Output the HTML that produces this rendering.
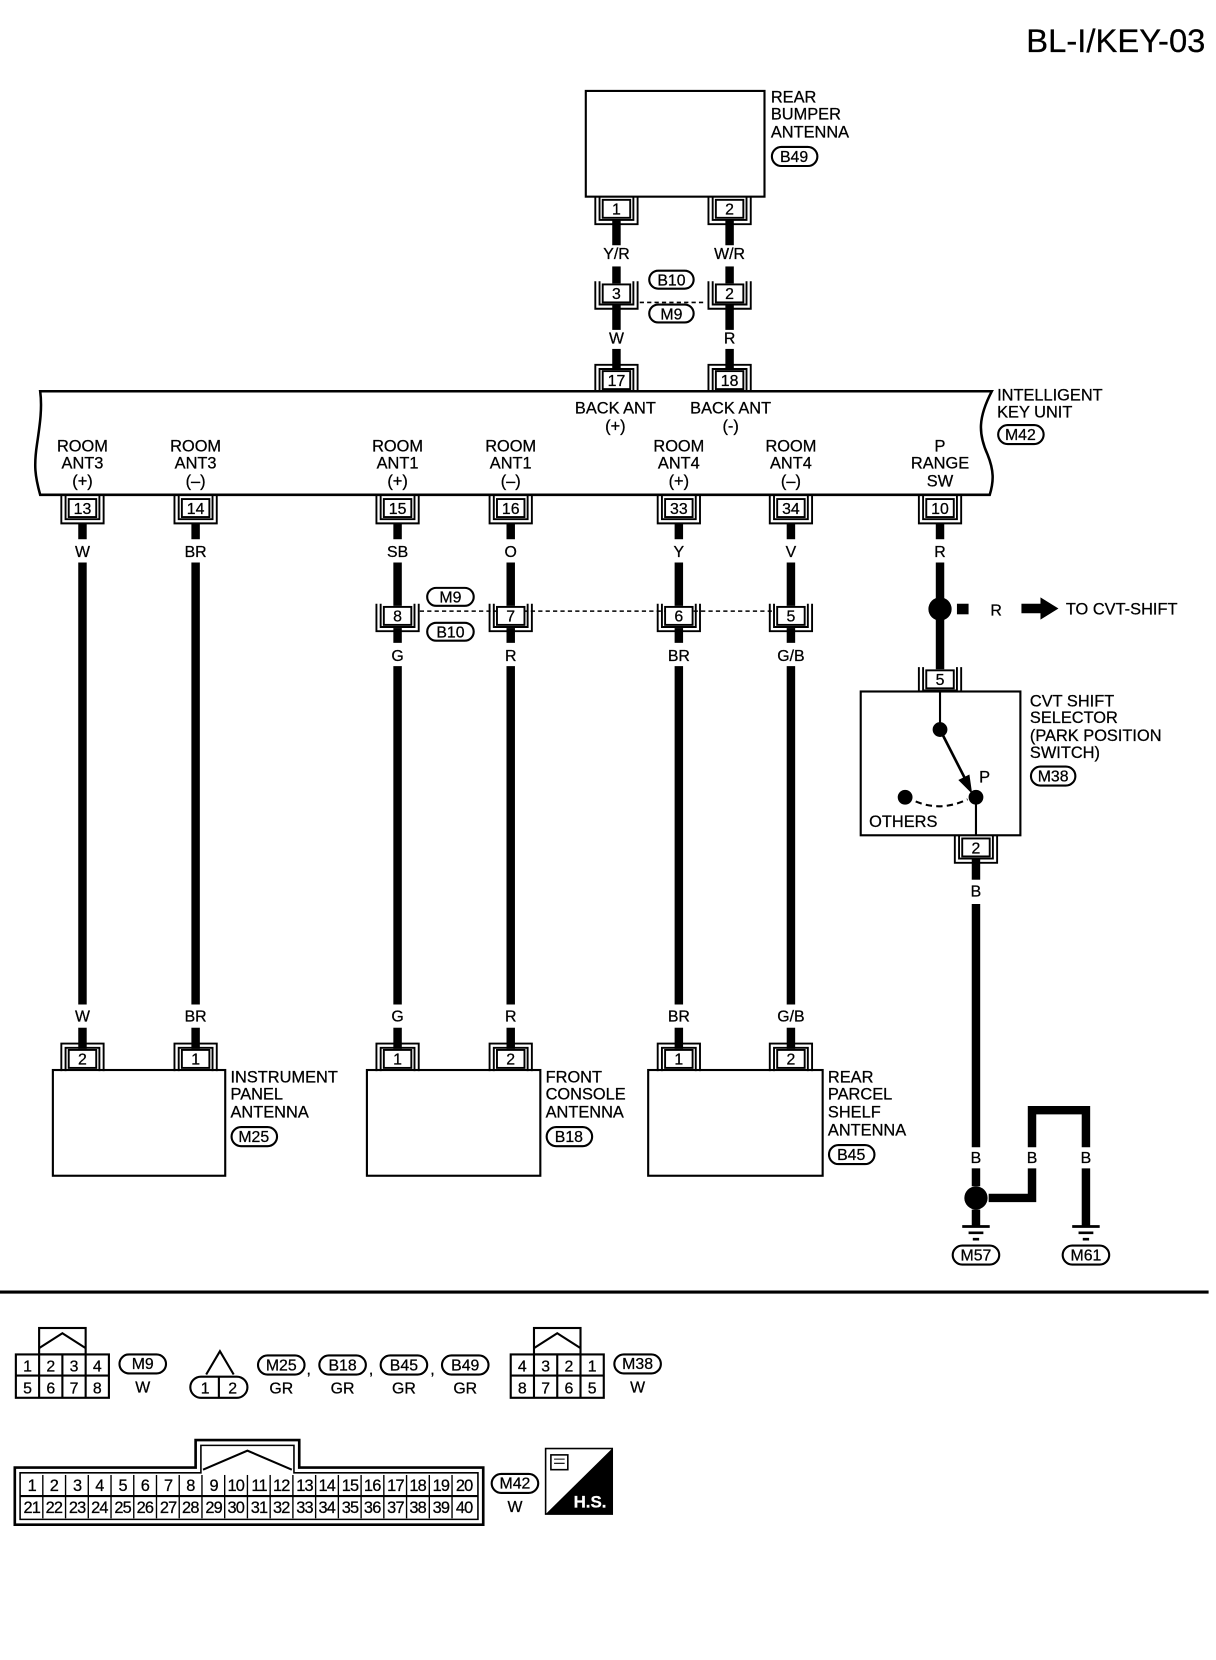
<!DOCTYPE html>
<html><head><meta charset="utf-8"><style>
html,body{margin:0;padding:0;background:#fff}
svg{display:block}
text{font-family:"Liberation Sans",Arial,sans-serif;font-size:15.5px;fill:#000;stroke:#000;stroke-width:0.25px}
.c{text-anchor:middle}
.s{font-size:15px}
rect[rx]{stroke-width:2px}
</style></head><body>
<svg width="1216" height="1660" viewBox="0 0 1150 1570" preserveAspectRatio="none" xmlns="http://www.w3.org/2000/svg">
<defs>
<g id="cu"><rect x="-13" y="0" width="26" height="17" fill="#fff" stroke="#000" stroke-width="1.8"/><path d="M-16,-3V19H16V-3M-20,-3V23H20V-3" fill="none" stroke="#000" stroke-width="1.8"/></g>
<g id="cn"><rect x="-13" y="0" width="26" height="17" fill="#fff" stroke="#000" stroke-width="1.8"/><path d="M-16,20V-2H16V20M-20,20V-6H20V20" fill="none" stroke="#000" stroke-width="1.8"/></g>
<g id="gnd"><path d="M-13,0H13M-7,6H7M-3,12H3" stroke="#000" stroke-width="2.5"/></g>
</defs>
<text x="1140" y="49" text-anchor="end" style="font-size:31px">BL-I/KEY-03</text>

<rect x="554" y="86" width="169" height="100" fill="none" stroke="#000" stroke-width="2"/>
<text x="729" y="97">REAR</text><text x="729" y="113">BUMPER</text><text x="729" y="130">ANTENNA</text>
<rect x="730" y="139" width="43" height="18" rx="9" fill="none" stroke="#000"/><text x="751" y="153" class="c s">B49</text>

<g stroke="#000" stroke-width="8">
<line x1="583" y1="208" x2="583" y2="232"/><line x1="583" y1="252" x2="583" y2="268"/><line x1="583" y1="288" x2="583" y2="312"/><line x1="583" y1="330" x2="583" y2="350"/>
<line x1="690" y1="208" x2="690" y2="232"/><line x1="690" y1="252" x2="690" y2="268"/><line x1="690" y1="288" x2="690" y2="312"/><line x1="690" y1="330" x2="690" y2="350"/>
</g>
<use href="#cu" x="583" y="189"/><text x="583" y="203" class="c s">1</text>
<use href="#cu" x="690" y="189"/><text x="690" y="203" class="c s">2</text>
<text x="583" y="245" class="c s">Y/R</text><text x="690" y="245" class="c s">W/R</text>
<use href="#cu" x="583" y="269"/><text x="583" y="283" class="c s">3</text>
<use href="#cu" x="690" y="269"/><text x="690" y="283" class="c s">2</text>
<line x1="605" y1="286" x2="668" y2="286" stroke="#000" stroke-width="1.5" stroke-dasharray="4,3"/>
<rect x="614" y="256" width="42" height="17" rx="8.5" fill="#fff" stroke="#000"/><text x="635" y="270" class="c s">B10</text>
<rect x="614" y="288" width="42" height="17" rx="8.5" fill="#fff" stroke="#000"/><text x="635" y="302" class="c s">M9</text>
<text x="583" y="325" class="c s">W</text><text x="690" y="325" class="c s">R</text>
<use href="#cn" x="583" y="351"/><text x="583" y="365" class="c s">17</text>
<use href="#cn" x="690" y="351"/><text x="690" y="365" class="c s">18</text>

<path d="M38,370 H938 C925,395 925,410 934,430 C940,445 940,455 936,468 H38 C33,450 32,440 35,420 C38,400 40,385 38,370 Z" fill="none" stroke="#000" stroke-width="2.4"/>
<text x="943" y="379">INTELLIGENT</text><text x="943" y="395">KEY UNIT</text>
<rect x="944" y="402" width="43" height="18" rx="9" fill="none" stroke="#000"/><text x="965" y="416" class="c s">M42</text>
<text x="582" y="391" class="c">BACK ANT</text><text x="582" y="408" class="c">(+)</text>
<text x="691" y="391" class="c">BACK ANT</text><text x="691" y="408" class="c">(-)</text>
<text x="78" y="427" class="c">ROOM</text><text x="78" y="443" class="c">ANT3</text><text x="78" y="460" class="c">(+)</text>
<text x="185" y="427" class="c">ROOM</text><text x="185" y="443" class="c">ANT3</text><text x="185" y="460" class="c">(–)</text>
<text x="376" y="427" class="c">ROOM</text><text x="376" y="443" class="c">ANT1</text><text x="376" y="460" class="c">(+)</text>
<text x="483" y="427" class="c">ROOM</text><text x="483" y="443" class="c">ANT1</text><text x="483" y="460" class="c">(–)</text>
<text x="642" y="427" class="c">ROOM</text><text x="642" y="443" class="c">ANT4</text><text x="642" y="460" class="c">(+)</text>
<text x="748" y="427" class="c">ROOM</text><text x="748" y="443" class="c">ANT4</text><text x="748" y="460" class="c">(–)</text>
<text x="889" y="427" class="c">P</text><text x="889" y="443" class="c">RANGE</text><text x="889" y="460" class="c">SW</text>
<use href="#cu" x="78" y="472"/><text x="78" y="486" class="c s">13</text>
<use href="#cu" x="185" y="472"/><text x="185" y="486" class="c s">14</text>
<use href="#cu" x="376" y="472"/><text x="376" y="486" class="c s">15</text>
<use href="#cu" x="483" y="472"/><text x="483" y="486" class="c s">16</text>
<use href="#cu" x="642" y="472"/><text x="642" y="486" class="c s">33</text>
<use href="#cu" x="748" y="472"/><text x="748" y="486" class="c s">34</text>
<use href="#cu" x="889" y="472"/><text x="889" y="486" class="c s">10</text>
<g stroke="#000" stroke-width="8">
<line x1="78" y1="495" x2="78" y2="510"/><line x1="185" y1="495" x2="185" y2="510"/><line x1="376" y1="495" x2="376" y2="510"/><line x1="483" y1="495" x2="483" y2="510"/><line x1="642" y1="495" x2="642" y2="510"/><line x1="748" y1="495" x2="748" y2="510"/><line x1="889" y1="495" x2="889" y2="510"/>
<line x1="78" y1="532" x2="78" y2="950"/><line x1="185" y1="532" x2="185" y2="950"/>
<line x1="376" y1="532" x2="376" y2="573"/><line x1="483" y1="532" x2="483" y2="573"/><line x1="642" y1="532" x2="642" y2="573"/><line x1="748" y1="532" x2="748" y2="573"/>
<line x1="376" y1="594" x2="376" y2="608"/><line x1="483" y1="594" x2="483" y2="608"/><line x1="642" y1="594" x2="642" y2="608"/><line x1="748" y1="594" x2="748" y2="608"/>
<line x1="376" y1="630" x2="376" y2="950"/><line x1="483" y1="630" x2="483" y2="950"/><line x1="642" y1="630" x2="642" y2="950"/><line x1="748" y1="630" x2="748" y2="950"/>
<line x1="78" y1="972" x2="78" y2="992"/><line x1="185" y1="972" x2="185" y2="992"/><line x1="376" y1="972" x2="376" y2="992"/><line x1="483" y1="972" x2="483" y2="992"/><line x1="642" y1="972" x2="642" y2="992"/><line x1="748" y1="972" x2="748" y2="992"/>
<line x1="889" y1="532" x2="889" y2="566"/><line x1="889" y1="586" x2="889" y2="633"/>
<line x1="923" y1="812" x2="923" y2="832"/><line x1="923" y1="855" x2="923" y2="1085"/><line x1="923" y1="1105" x2="923" y2="1122"/><line x1="923" y1="1144" x2="923" y2="1160"/>
<path d="M935,1133 H976 V1105" fill="none"/><path d="M976,1085 V1050 H1027 V1085" fill="none"/><line x1="1027" y1="1105" x2="1027" y2="1160"/>
</g>
<text x="78" y="527" class="c s">W</text><text x="185" y="527" class="c s">BR</text><text x="376" y="527" class="c s">SB</text><text x="483" y="527" class="c s">O</text><text x="642" y="527" class="c s">Y</text><text x="748" y="527" class="c s">V</text><text x="889" y="527" class="c s">R</text>
<text x="376" y="625" class="c s">G</text><text x="483" y="625" class="c s">R</text><text x="642" y="625" class="c s">BR</text><text x="748" y="625" class="c s">G/B</text>
<text x="78" y="966" class="c s">W</text><text x="185" y="966" class="c s">BR</text><text x="376" y="966" class="c s">G</text><text x="483" y="966" class="c s">R</text><text x="642" y="966" class="c s">BR</text><text x="748" y="966" class="c s">G/B</text>
<line x1="397" y1="578" x2="730" y2="578" stroke="#000" stroke-width="1.5" stroke-dasharray="4,3"/>
<use href="#cu" x="376" y="574"/><text x="376" y="588" class="c s">8</text>
<use href="#cu" x="483" y="574"/><text x="483" y="588" class="c s">7</text>
<use href="#cu" x="642" y="574"/><text x="642" y="588" class="c s">6</text>
<use href="#cu" x="748" y="574"/><text x="748" y="588" class="c s">5</text>
<rect x="404" y="556" width="44" height="17" rx="8.5" fill="#fff" stroke="#000"/><text x="426" y="570" class="c s">M9</text>
<rect x="404" y="589" width="44" height="17" rx="8.5" fill="#fff" stroke="#000"/><text x="426" y="603" class="c s">B10</text>

<circle cx="889" cy="576" r="11"/>
<rect x="905" y="571" width="11" height="10"/>
<text x="942" y="582" class="c s">R</text>
<rect x="966" y="571" width="20" height="9"/><path d="M984,565 L1001,575.5 L984,586 Z"/>
<text x="1008" y="581">TO CVT-SHIFT</text>
<use href="#cu" x="889" y="634"/><text x="889" y="648" class="c s">5</text>
<rect x="814" y="654" width="151" height="136" fill="#fff" stroke="#000" stroke-width="2"/>
<use href="#cu" x="923" y="793"/><text x="923" y="807" class="c s">2</text>
<line x1="889" y1="654" x2="889" y2="690" stroke="#000" stroke-width="2"/>
<circle cx="889" cy="690" r="7"/>
<line x1="891" y1="694" x2="914" y2="739" stroke="#000" stroke-width="2.5"/><path d="M918,748 L908,738 L916,734 Z" stroke="#000" stroke-width="2"/>
<circle cx="923" cy="754" r="7"/><circle cx="856" cy="754" r="7"/>
<path d="M866,758 Q890,768 915,756" fill="none" stroke="#000" stroke-width="2" stroke-dasharray="6,4"/>
<line x1="923" y1="754" x2="923" y2="790" stroke="#000" stroke-width="2"/>
<text x="926" y="740">P</text><text x="822" y="782">OTHERS</text>
<text x="974" y="668">CVT SHIFT</text><text x="974" y="684">SELECTOR</text><text x="974" y="701">(PARK POSITION</text><text x="974" y="717">SWITCH)</text>
<rect x="975" y="725" width="42" height="18" rx="9" fill="none" stroke="#000"/><text x="996" y="739" class="c s">M38</text>
<text x="923" y="848" class="c s">B</text>
<text x="923" y="1100" class="c s">B</text><text x="976" y="1100" class="c s">B</text><text x="1027" y="1100" class="c s">B</text>
<circle cx="923" cy="1133" r="11"/>
<use href="#gnd" x="923" y="1160"/><use href="#gnd" x="1027" y="1160"/>
<rect x="901" y="1178" width="44" height="18" rx="9" fill="none" stroke="#000"/><text x="923" y="1192" class="c s">M57</text>
<rect x="1005" y="1178" width="44" height="18" rx="9" fill="none" stroke="#000"/><text x="1027" y="1192" class="c s">M61</text>

<use href="#cn" x="78" y="993"/><text x="78" y="1007" class="c s">2</text>
<use href="#cn" x="185" y="993"/><text x="185" y="1007" class="c s">1</text>
<use href="#cn" x="376" y="993"/><text x="376" y="1007" class="c s">1</text>
<use href="#cn" x="483" y="993"/><text x="483" y="1007" class="c s">2</text>
<use href="#cn" x="642" y="993"/><text x="642" y="1007" class="c s">1</text>
<use href="#cn" x="748" y="993"/><text x="748" y="1007" class="c s">2</text>
<rect x="50" y="1012" width="163" height="100" fill="none" stroke="#000" stroke-width="2"/>
<rect x="347" y="1012" width="164" height="100" fill="none" stroke="#000" stroke-width="2"/>
<rect x="613" y="1012" width="165" height="100" fill="none" stroke="#000" stroke-width="2"/>
<text x="218" y="1024">INSTRUMENT</text><text x="218" y="1040">PANEL</text><text x="218" y="1057">ANTENNA</text>
<rect x="219" y="1066" width="43" height="18" rx="9" fill="none" stroke="#000"/><text x="240" y="1080" class="c s">M25</text>
<text x="516" y="1024">FRONT</text><text x="516" y="1040">CONSOLE</text><text x="516" y="1057">ANTENNA</text>
<rect x="517" y="1066" width="43" height="18" rx="9" fill="none" stroke="#000"/><text x="538" y="1080" class="c s">B18</text>
<text x="783" y="1024">REAR</text><text x="783" y="1040">PARCEL</text><text x="783" y="1057">SHELF</text><text x="783" y="1074">ANTENNA</text>
<rect x="784" y="1083" width="43" height="18" rx="9" fill="none" stroke="#000"/><text x="805" y="1097" class="c s">B45</text>

<line x1="0" y1="1222" x2="1143" y2="1222" stroke="#000" stroke-width="3"/>

<g fill="none" stroke="#000" stroke-width="2">
<rect x="37" y="1256" width="44" height="25"/><path d="M37,1275 L59,1261 L81,1275"/>
<rect x="15" y="1281" width="88" height="41"/><path d="M15,1301H103M37,1281V1322M59,1281V1322M81,1281V1322"/>
<path d="M195,1300 L208,1278 L221,1300"/>
<rect x="180" y="1302" width="54" height="20" rx="10"/><line x1="207" y1="1302" x2="207" y2="1322"/>
<rect x="505" y="1256" width="44" height="25"/><path d="M505,1275 L527,1261 L549,1275"/>
<rect x="483" y="1281" width="88" height="41"/><path d="M483,1301H571M505,1281V1322M527,1281V1322M549,1281V1322"/>
<path d="M14,1442 V1388 H185 V1362 H283 V1388 H457 V1442 Z" stroke-width="2.5"/>
<path d="M19,1437 V1393 H190 V1367 H278 V1393 H452 V1437 Z" stroke-width="1.5"/>
<path d="M192,1390 L234,1372 L276,1390" stroke-width="2"/>
<path d="M19,1415 H452"/>
</g>
<g stroke="#000" stroke-width="1.3">
<line x1="40.5" y1="1395" x2="40.5" y2="1436"/><line x1="62" y1="1395" x2="62" y2="1436"/><line x1="83.5" y1="1395" x2="83.5" y2="1436"/><line x1="105" y1="1395" x2="105" y2="1436"/><line x1="126.5" y1="1395" x2="126.5" y2="1436"/><line x1="148" y1="1395" x2="148" y2="1436"/><line x1="169.5" y1="1395" x2="169.5" y2="1436"/><line x1="191" y1="1395" x2="191" y2="1436"/><line x1="212.5" y1="1395" x2="212.5" y2="1436"/><line x1="234" y1="1395" x2="234" y2="1436"/><line x1="255.5" y1="1395" x2="255.5" y2="1436"/><line x1="277" y1="1395" x2="277" y2="1436"/><line x1="298.5" y1="1395" x2="298.5" y2="1436"/><line x1="320" y1="1395" x2="320" y2="1436"/><line x1="341.5" y1="1395" x2="341.5" y2="1436"/><line x1="363" y1="1395" x2="363" y2="1436"/><line x1="384.5" y1="1395" x2="384.5" y2="1436"/><line x1="406" y1="1395" x2="406" y2="1436"/><line x1="427.5" y1="1395" x2="427.5" y2="1436"/>
</g>
<text x="26" y="1297" class="c s">1</text><text x="48" y="1297" class="c s">2</text><text x="70" y="1297" class="c s">3</text><text x="92" y="1297" class="c s">4</text>
<text x="26" y="1318" class="c s">5</text><text x="48" y="1318" class="c s">6</text><text x="70" y="1318" class="c s">7</text><text x="92" y="1318" class="c s">8</text>
<text x="194" y="1318" class="c s">1</text><text x="220" y="1318" class="c s">2</text>
<text x="494" y="1297" class="c s">4</text><text x="516" y="1297" class="c s">3</text><text x="538" y="1297" class="c s">2</text><text x="560" y="1297" class="c s">1</text>
<text x="494" y="1318" class="c s">8</text><text x="516" y="1318" class="c s">7</text><text x="538" y="1318" class="c s">6</text><text x="560" y="1318" class="c s">5</text>
<g style="font-size:13px;letter-spacing:-0.8px">
<text x="30" y="1410" class="c">1</text><text x="51" y="1410" class="c">2</text><text x="73" y="1410" class="c">3</text><text x="94" y="1410" class="c">4</text><text x="116" y="1410" class="c">5</text><text x="137" y="1410" class="c">6</text><text x="159" y="1410" class="c">7</text><text x="180" y="1410" class="c">8</text><text x="202" y="1410" class="c">9</text><text x="223" y="1410" class="c">10</text><text x="245" y="1410" class="c">11</text><text x="266" y="1410" class="c">12</text><text x="288" y="1410" class="c">13</text><text x="309" y="1410" class="c">14</text><text x="331" y="1410" class="c">15</text><text x="352" y="1410" class="c">16</text><text x="374" y="1410" class="c">17</text><text x="395" y="1410" class="c">18</text><text x="417" y="1410" class="c">19</text><text x="439" y="1410" class="c">20</text>
<text x="30" y="1431" class="c">21</text><text x="51" y="1431" class="c">22</text><text x="73" y="1431" class="c">23</text><text x="94" y="1431" class="c">24</text><text x="116" y="1431" class="c">25</text><text x="137" y="1431" class="c">26</text><text x="159" y="1431" class="c">27</text><text x="180" y="1431" class="c">28</text><text x="202" y="1431" class="c">29</text><text x="223" y="1431" class="c">30</text><text x="245" y="1431" class="c">31</text><text x="266" y="1431" class="c">32</text><text x="288" y="1431" class="c">33</text><text x="309" y="1431" class="c">34</text><text x="331" y="1431" class="c">35</text><text x="352" y="1431" class="c">36</text><text x="374" y="1431" class="c">37</text><text x="395" y="1431" class="c">38</text><text x="417" y="1431" class="c">39</text><text x="439" y="1431" class="c">40</text>
</g>
<g fill="none" stroke="#000">
<rect x="113" y="1281" width="44" height="18" rx="9"/>
<rect x="244" y="1282" width="44" height="18" rx="9"/>
<rect x="302" y="1282" width="44" height="18" rx="9"/>
<rect x="360" y="1282" width="44" height="18" rx="9"/>
<rect x="418" y="1282" width="44" height="18" rx="9"/>
<rect x="581" y="1281" width="44" height="18" rx="9"/>
<rect x="465" y="1394" width="44" height="18" rx="9"/>
</g>
<text x="135" y="1295" class="c s">M9</text><text x="135" y="1317" class="c s">W</text>
<text x="266" y="1296" class="c s">M25</text><text x="266" y="1318" class="c s">GR</text>
<text x="292" y="1300" class="c s">,</text>
<text x="324" y="1296" class="c s">B18</text><text x="324" y="1318" class="c s">GR</text>
<text x="351" y="1300" class="c s">,</text>
<text x="382" y="1296" class="c s">B45</text><text x="382" y="1318" class="c s">GR</text>
<text x="409" y="1300" class="c s">,</text>
<text x="440" y="1296" class="c s">B49</text><text x="440" y="1318" class="c s">GR</text>
<text x="603" y="1295" class="c s">M38</text><text x="603" y="1317" class="c s">W</text>
<text x="487" y="1408" class="c s">M42</text><text x="487" y="1430" class="c s">W</text>
<rect x="516" y="1370" width="63" height="62" fill="#fff" stroke="#000" stroke-width="1.5"/>
<path d="M579,1370 L579,1432 L516,1432 Z"/>
<rect x="521" y="1376" width="16" height="14" fill="none" stroke="#000" stroke-width="1.5"/>
<path d="M524,1380h10M524,1384h10" stroke="#000" stroke-width="1"/>
<text x="558" y="1426" class="c" style="fill:#fff;stroke:#fff;font-weight:bold;font-size:16px">H.S.</text>
</svg>
</body></html>
